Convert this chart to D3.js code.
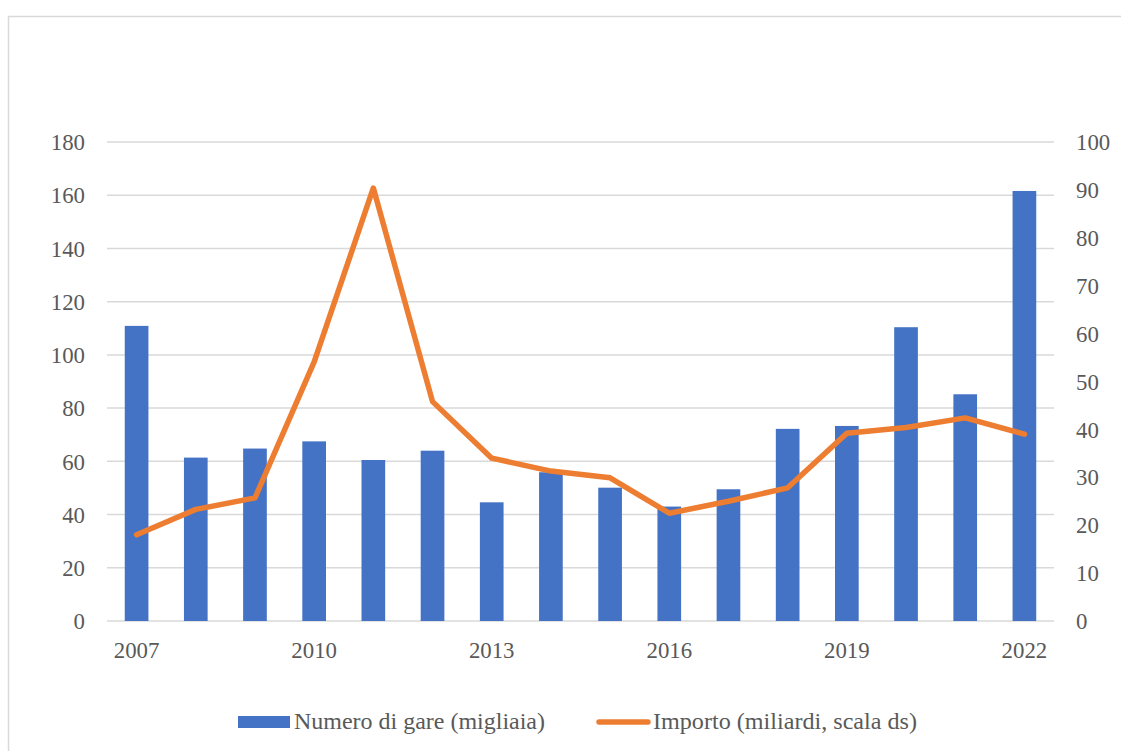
<!DOCTYPE html>
<html>
<head>
<meta charset="utf-8">
<script src="https://cdn.jsdelivr.net/npm/d3@7"></script>
<style>
  html, body { margin: 0; padding: 0; background: #fff; }
  svg { display: block; }
</style>
</head>
<body>
<svg id="chart" width="1121" height="751"></svg>
<script>
const years = ["2007","2008","2009","2010","2011","2012","2013","2014","2015","2016","2017","2018","2019","2020","2021","2022"];
const gare = [110.9, 61.4, 64.8, 67.5, 60.5, 64.0, 44.6, 55.9, 50.1, 43.0, 49.5, 72.2, 73.3, 110.4, 85.2, 161.6];
const importo = [18.0, 23.3, 25.7, 54.1, 90.4, 45.8, 34.0, 31.3, 29.9, 22.5, 25.0, 27.8, 39.2, 40.4, 42.4, 39.0];
const leftTicks = [0, 20, 40, 60, 80, 100, 120, 140, 160, 180];
const rightTicks = [0, 10, 20, 30, 40, 50, 60, 70, 80, 90, 100];
const xLabels = ["2007", "2010", "2013", "2016", "2019", "2022"];
const seriesNames = ["Numero di gare (migliaia)", "Importo (miliardi, scala ds)"];

const FONT = "'Liberation Serif', 'Times New Roman', serif";
const TXT = "#595959";
const svg = d3.select("#chart");
const plot = { left: 107, right: 1054, top: 142, bottom: 621 };

svg.append("rect")
  .attr("x", 8.5).attr("y", 16.5)
  .attr("width", 1130).attr("height", 760)
  .attr("fill", "#fff").attr("stroke", "#D9D9D9").attr("stroke-width", 1.5);

const x = d3.scaleBand().domain(years).range([plot.left, plot.right]).paddingInner(0.6).paddingOuter(0.3);
const yL = d3.scaleLinear().domain([0, 180]).range([plot.bottom, plot.top]);
const yR = d3.scaleLinear().domain([0, 100]).range([plot.bottom, plot.top]);

// gridlines
svg.append("g").selectAll("line").data(leftTicks).join("line")
  .attr("x1", plot.left).attr("x2", plot.right)
  .attr("y1", d => yL(d)).attr("y2", d => yL(d))
  .attr("stroke", "#D9D9D9").attr("stroke-width", 1.5);

function styleAxis(g) {
  g.select(".domain").remove();
  g.attr("font-family", null).attr("font-size", null);
  g.selectAll("text")
    .style("font-family", FONT).style("font-size", "24px")
    .attr("fill", TXT)
    .attr("textLength", function () { return this.textContent.length * 11.4; })
    .attr("lengthAdjust", "spacingAndGlyphs");
}

// left axis
const gl = svg.append("g").attr("transform", `translate(${plot.left},0)`)
  .call(d3.axisLeft(yL).tickValues(leftTicks).tickSize(0).tickPadding(22));
styleAxis(gl);

// right axis
const gr = svg.append("g").attr("transform", `translate(${plot.right},0)`)
  .call(d3.axisRight(yR).tickValues(rightTicks).tickSize(0).tickPadding(22));
styleAxis(gr);

// bars
svg.append("g").selectAll("rect").data(years).join("rect")
  .attr("x", d => x(d)).attr("width", x.bandwidth())
  .attr("y", (d, i) => yL(gare[i])).attr("height", (d, i) => yL(0) - yL(gare[i]))
  .attr("fill", "#4472C4");

// bottom axis
const gb = svg.append("g").attr("transform", `translate(0,${plot.bottom})`)
  .call(d3.axisBottom(x).tickValues(xLabels).tickSize(0).tickPadding(20));
styleAxis(gb);

// line
const line = d3.line()
  .x((d, i) => x(years[i]) + x.bandwidth() / 2)
  .y(d => yR(d));
svg.append("path").datum(importo)
  .attr("d", line)
  .attr("fill", "none").attr("stroke", "#ED7D31").attr("stroke-width", 5.5)
  .attr("stroke-linejoin", "round").attr("stroke-linecap", "round");

// legend
const lg = svg.append("g");
lg.append("rect").attr("x", 238).attr("y", 716).attr("width", 52).attr("height", 12).attr("fill", "#4472C4");
lg.append("text").attr("x", 294).attr("y", 729).text(seriesNames[0])
  .style("font-family", FONT).style("font-size", "24px").attr("fill", TXT)
  .attr("textLength", 251).attr("lengthAdjust", "spacingAndGlyphs");
lg.append("line").attr("x1", 599).attr("x2", 648).attr("y1", 722).attr("y2", 722)
  .attr("stroke", "#ED7D31").attr("stroke-width", 5.5).attr("stroke-linecap", "round");
lg.append("text").attr("x", 653).attr("y", 729).text(seriesNames[1])
  .style("font-family", FONT).style("font-size", "24px").attr("fill", TXT)
  .attr("textLength", 264).attr("lengthAdjust", "spacingAndGlyphs");
</script>
</body>
</html>
